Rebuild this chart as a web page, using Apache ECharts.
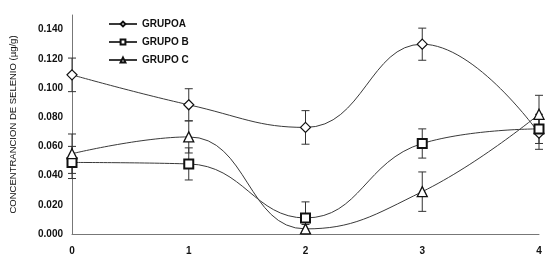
<!DOCTYPE html>
<html>
<head>
<meta charset="utf-8">
<script src="https://cdn.jsdelivr.net/npm/echarts@6/dist/echarts.min.js"></script>
<style>
  html, body { margin: 0; padding: 0; background: #fff; }
  #grafico { width: 548px; height: 263px; }
</style>
</head>
<body>
<div id="grafico"></div>
<script>
// dias de muestreo
const tiempos = [0, 1, 2, 3, 4]

// concentracion media por grupo (ug/g)
const grupoA = [0.109, 0.0885, 0.073, 0.130, 0.069]
const grupoB = [0.049, 0.048, 0.011, 0.062, 0.072]
const grupoC = [0.055, 0.0665, 0.0035, 0.029, 0.082]

// desviacion (barras de error)
const errorA = [0.0115, 0.011, 0.0115, 0.011, 0.011]
const errorB = [0.011, 0.011, 0.011, 0.010, 0.010]
const errorC = [0.0135, 0.011, 0.003, 0.0135, 0.013]

const nombres = ['GRUPOA', 'GRUPO B', 'GRUPO C']

const chart = echarts.init(document.getElementById('grafico'))

function puntos(valores) {
  return tiempos.map((t, i) => [t, valores[i]])
}

function barras(valores, errores) {
  return tiempos.map((t, i) => [t, valores[i] - errores[i], valores[i] + errores[i]])
}

function dibujarError(params, api) {
  const x = api.value(0)
  const bajo = api.coord([x, api.value(1)])
  const alto = api.coord([x, api.value(2)])
  const w = 4
  const estilo = { stroke: '#333', lineWidth: 1 }
  return {
    type: 'group',
    children: [
      { type: 'line', shape: { x1: bajo[0], y1: bajo[1], x2: alto[0], y2: alto[1] }, style: estilo },
      { type: 'line', shape: { x1: bajo[0] - w, y1: bajo[1], x2: bajo[0] + w, y2: bajo[1] }, style: estilo },
      { type: 'line', shape: { x1: alto[0] - w, y1: alto[1], x2: alto[0] + w, y2: alto[1] }, style: estilo }
    ]
  }
}

function serieLinea(nombre, valores, simbolo, tam, borde) {
  return {
    name: nombre,
    type: 'line',
    smooth: 0.45,
    data: puntos(valores),
    symbol: simbolo,
    symbolSize: tam,
    showAllSymbol: true,
    z: 3,
    lineStyle: { color: '#3a3a3a', width: 1 },
    itemStyle: { color: '#fff', borderColor: '#111', borderWidth: borde },
    emphasis: { disabled: true }
  }
}

function serieError(valores, errores) {
  return {
    type: 'custom',
    renderItem: dibujarError,
    data: barras(valores, errores),
    z: 2,
    silent: true
  }
}

const option = {
  animation: false,
  backgroundColor: '#fff',
  grid: { left: 72, right: 9, top: 15, bottom: 29 },
  legend: {
    orient: 'vertical',
    left: 103,
    top: 14,
    itemGap: 8,
    itemWidth: 28,
    itemHeight: 6,
    data: nombres,
    textStyle: { fontFamily: 'Liberation Sans', fontWeight: 'bold', fontSize: 10, color: '#111' }
  },
  xAxis: {
    type: 'value',
    min: 0,
    max: 4,
    interval: 1,
    splitLine: { show: false },
    axisTick: { show: false },
    axisLine: { lineStyle: { color: '#777', width: 1 } },
    axisLabel: { fontFamily: 'Liberation Sans', fontWeight: 'bold', fontSize: 10, color: '#111', margin: 12 }
  },
  yAxis: {
    type: 'value',
    min: 0,
    max: 0.15,
    interval: 0.02,
    name: 'CONCENTRANCION DE SELENIO (µg/g)',
    nameLocation: 'middle',
    nameGap: 54,
    nameTextStyle: { fontFamily: 'Liberation Sans', fontSize: 9.5, color: '#111' },
    splitLine: { show: false },
    axisTick: { show: false },
    axisLine: { show: true, lineStyle: { color: '#777', width: 1 } },
    axisLabel: {
      fontFamily: 'Liberation Sans',
      fontWeight: 'bold',
      fontSize: 10,
      color: '#111',
      margin: 9,
      showMaxLabel: false,
      formatter: v => v.toFixed(3)
    }
  },
  series: [
    serieError(grupoA, errorA),
    serieError(grupoB, errorB),
    serieError(grupoC, errorC),
    serieLinea(nombres[0], grupoA, 'diamond', 10, 1.2),
    serieLinea(nombres[1], grupoB, 'rect', 9, 2),
    serieLinea(nombres[2], grupoC, 'triangle', 10, 1.3)
  ]
}

chart.setOption(option)
</script>
</body>
</html>
